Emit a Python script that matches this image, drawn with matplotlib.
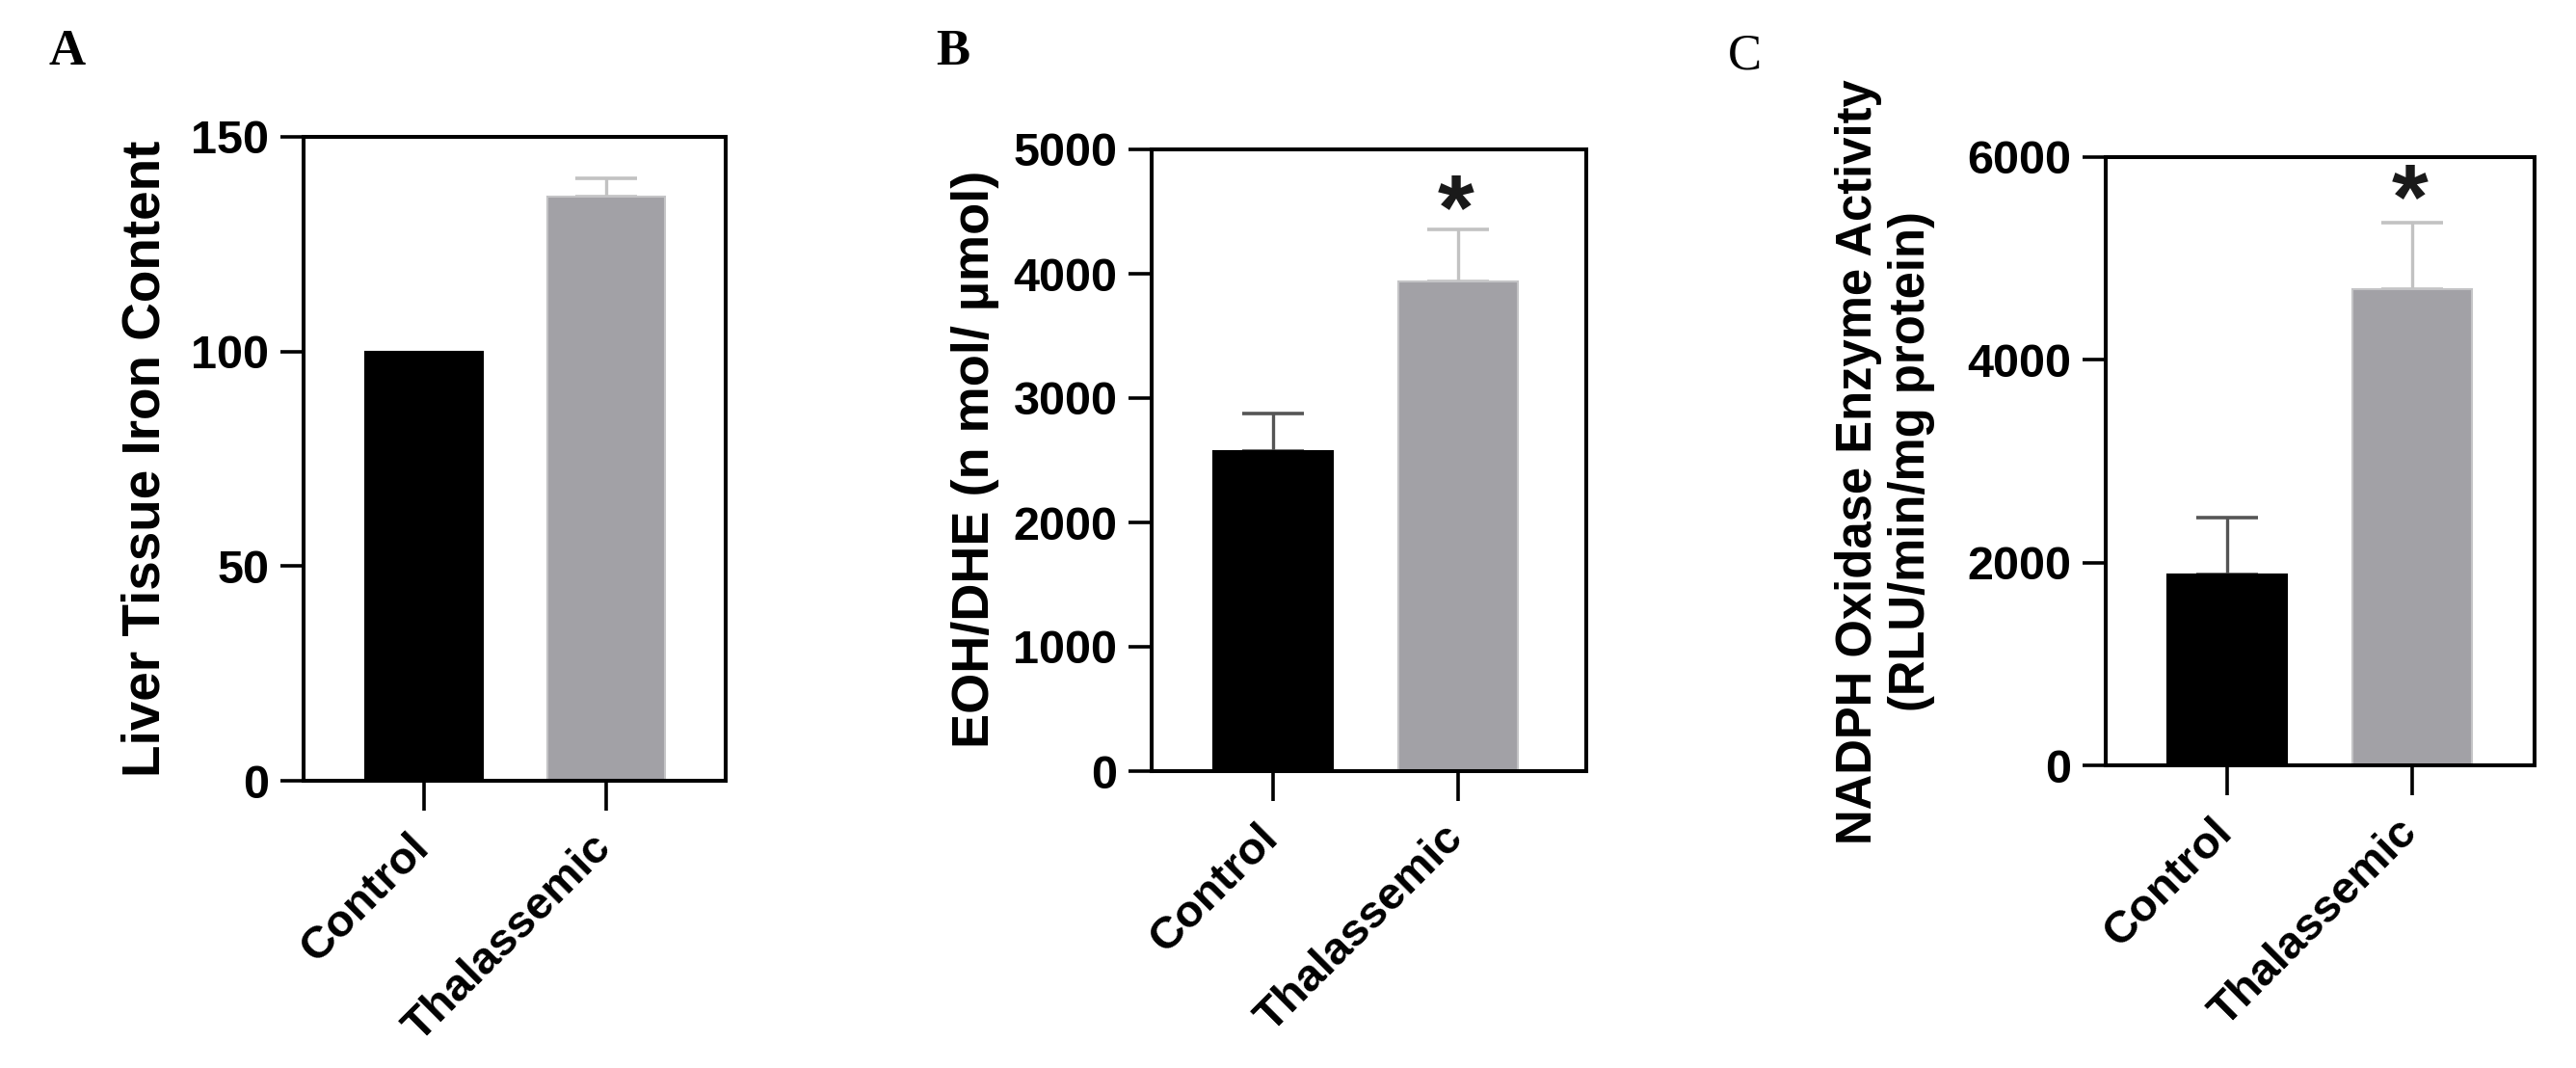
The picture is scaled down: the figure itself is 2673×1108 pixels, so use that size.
import matplotlib
matplotlib.use('Agg')
import matplotlib.pyplot as plt
from matplotlib.transforms import ScaledTranslation

# ---------------- data ----------------
categories = ['Control', 'Thalassemic']

iron_means = [100, 136]
iron_sem = [0, 4.3]

eoh_means = [2575, 3935]
eoh_sem = [300, 420]

nadph_means = [1880, 4700]
nadph_sem = [565, 650]

eoh_star_y = 4640
nadph_star_y = 5740

iron_ticks = [0, 50, 100, 150]
eoh_ticks = [0, 1000, 2000, 3000, 4000, 5000]
nadph_ticks = [0, 2000, 4000, 6000]

ylabels = ['Liver Tissue Iron Content',
           'EOH/DHE (n mol/ µmol)',
           'NADPH Oxidase Enzyme Activity\n(RLU/min/mg protein)']
panel_letters = ['A', 'B', 'C']

# ---------------- style ----------------
plt.rcParams['font.family'] = ['Liberation Sans', 'DejaVu Sans']
plt.rcParams['font.weight'] = 'bold'

bar_colors = ['#000000', '#a2a1a6']
bar_edges = ['#000000', '#c4c4c6']
err_colors = ['#555555', '#c2c2c2']

W, H = 2673, 1108
fig = plt.figure(figsize=(W / 100, H / 100), dpi=100)


def px_axes(l, t, r, b):
    return fig.add_axes([l / W, 1 - b / H, (r - l) / W, (b - t) / H])


def fx(x):
    return x / W


def fy(y):
    return 1 - y / H


def draw_panel(ax, means, sems, ticks, xlim, star_y=None):
    x = list(range(len(categories)))
    ax.bar(x, means, width=0.65, color=bar_colors, edgecolor=bar_edges,
           linewidth=1.5, zorder=2)
    for i in x:
        if sems[i] > 0:
            ax.errorbar(i, means[i], yerr=[[0], [sems[i]]], fmt='none',
                        ecolor=err_colors[i], elinewidth=2.4, capsize=23,
                        capthick=2.6, zorder=1)
    ax.set_xlim(*xlim)
    ax.set_ylim(ticks[0], ticks[-1])
    ax.set_yticks(ticks)
    ax.set_yticklabels([str(t) for t in ticks])
    ax.set_xticks(x)
    ax.set_xticklabels(categories, rotation=45, ha='right',
                       rotation_mode='anchor')
    for s in ax.spines.values():
        s.set_linewidth(2.9)
        s.set_color('black')
    ax.tick_params(axis='y', direction='out', length=17.6, width=2.6,
                   pad=8, labelsize=35)
    ax.tick_params(axis='x', direction='out', length=22, width=2.6,
                   pad=12, labelsize=34)
    shift = ScaledTranslation(-0.17, 0.0, fig.dpi_scale_trans)
    for lab in ax.get_xticklabels():
        lab.set_fontweight('bold')
        lab.set_transform(lab.get_transform() + shift)
    for lab in ax.get_yticklabels():
        lab.set_fontweight('bold')
    if star_y is not None:
        ax.annotate('*', xy=(1, star_y), xytext=(-2, -0.48 * 70),
                    textcoords='offset points', ha='center', va='baseline',
                    fontsize=70, fontweight='bold', color='#1a1a1a')


axA = px_axes(315, 142, 753, 810)
draw_panel(axA, iron_means, iron_sem, iron_ticks, (-0.661, 1.656))

axB = px_axes(1195, 155, 1646, 800)
draw_panel(axB, eoh_means, eoh_sem, eoh_ticks, (-0.656, 1.693), eoh_star_y)

axC = px_axes(2185, 163, 2630, 794)
draw_panel(axC, nadph_means, nadph_sem, nadph_ticks, (-0.656, 1.661),
           nadph_star_y)

# y labels
fig.text(fx(152), fy(476), ylabels[0], rotation=90, rotation_mode='anchor',
         ha='center', va='center', fontsize=39.5, fontweight='bold')
fig.text(fx(1012), fy(476), ylabels[1], rotation=90, rotation_mode='anchor',
         ha='center', va='center', fontsize=39, fontweight='bold')
fig.text(fx(1956), fy(479), ylabels[2], rotation=90, rotation_mode='anchor',
         ha='center', va='center', fontsize=36.5, fontweight='bold',
         multialignment='center', linespacing=1.15)

# panel letters
fig.text(fx(50), fy(67), panel_letters[0], ha='left', va='baseline',
         fontsize=38, fontweight='bold', family='Liberation Serif')
fig.text(fx(971), fy(67), panel_letters[1], ha='left', va='baseline',
         fontsize=38, fontweight='bold', family='Liberation Serif')
fig.text(fx(1793), fy(72), panel_letters[2], ha='left', va='baseline',
         fontsize=38, fontweight='normal', family='Liberation Serif')

fig.savefig('out.png', dpi=100, facecolor='white')
